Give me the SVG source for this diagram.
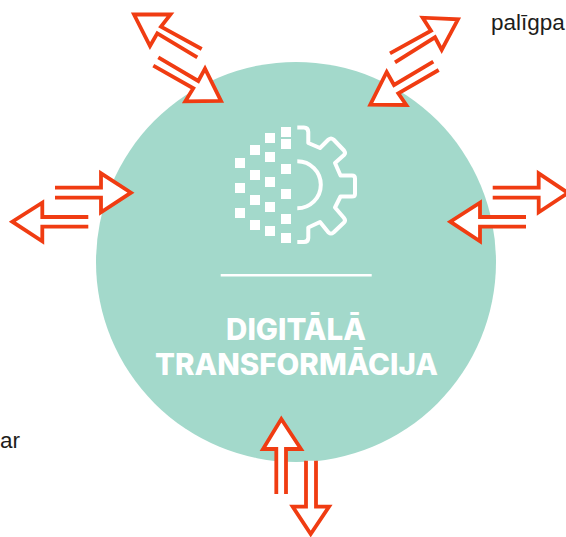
<svg xmlns="http://www.w3.org/2000/svg" width="566" height="537" viewBox="0 0 566 537">
<style>
.arrow{fill:#fff;stroke:#f03c12;stroke-width:3.800;stroke-linejoin:miter;stroke-miterlimit:8}
.sq{fill:#fff}
.label{font-family:"Liberation Sans",sans-serif;font-size:22.500px;fill:#1d1d1b}
.title{font-family:Inter,"Liberation Sans",sans-serif;font-weight:800;font-size:29.500px;fill:#fff;text-anchor:middle}
</style>
<rect width="566" height="537" fill="#fff"/>
<g id="circle-node">
<circle cx="296" cy="262" r="200" fill="#a3d9cb"/>
<g id="icon">
<rect class="sq" x="281" y="127" width="10" height="10"/><rect class="sq" x="281" y="139" width="10" height="10"/>
<rect class="sq" x="265" y="133" width="10" height="10"/><rect class="sq" x="265" y="152" width="10" height="10"/>
<rect class="sq" x="250" y="145" width="10" height="10"/><rect class="sq" x="250" y="170" width="10" height="10"/>
<rect class="sq" x="235" y="158" width="10" height="10"/><rect class="sq" x="235" y="183" width="10" height="10"/>
<rect class="sq" x="235" y="208" width="10" height="10"/><rect class="sq" x="250" y="195" width="10" height="10"/>
<rect class="sq" x="250" y="220" width="10" height="10"/><rect class="sq" x="265" y="177" width="10" height="10"/>
<rect class="sq" x="265" y="202" width="10" height="10"/><rect class="sq" x="265" y="226" width="10" height="10"/>
<rect class="sq" x="281" y="164" width="10" height="10"/><rect class="sq" x="281" y="189" width="10" height="10"/>
<rect class="sq" x="281" y="214" width="10" height="10"/><rect class="sq" x="281" y="233" width="10" height="10"/>
<path fill="none" stroke="#fff" stroke-width="4" stroke-linejoin="round" d="M297.300,127.500H304Q308,127.500 308.300,132V143L320,148L328.500,139.500Q331,137.500 333.500,139.500L344,150.500Q346,153 344,155L335,163L340.500,175.500H352Q355,175.500 355,178.500V194Q355,196.500 352,196.500H340.500L335,207.500L344,218Q346,220.500 344,222.500L333.500,232.500Q331,234.500 328.500,232.500L320,222L308.300,227.500V238Q308,242 304,242H297.300"/>
<path fill="none" stroke="#fff" stroke-width="4" d="M297.300,161.300A23.500,23.500 0 0 1 297.300,208.300"/>
</g>
<rect x="220.700" y="274" width="151" height="2.500" fill="#fff"/>
<text class="title" x="296" y="340">DIGITĀLĀ</text>
<text class="title" x="296.500" y="375">TRANSFORMĀCIJA</text>
</g>
<g id="connectors">
<path class="arrow" d="M201.700,49L161,26.700L170.500,14.500L134,14.500L150,46L157.300,33.300L197.300,57.300"/>
<path class="arrow" d="M158.300,57.300L198.300,81L205,68.700L221,101L185.300,101.300L193.300,88.300L153.300,65.700"/>
<path class="arrow" d="M390,53.300L431,30.700L422.700,17.700L458,19.300L441.700,50L435,37.300L395,62.300"/>
<path class="arrow" d="M433.300,61.700L394,85L386.700,72L370.300,104.700L406.300,105L398.300,93.300L438.700,70"/>
<path class="arrow" d="M55,187.700H101V173.300L131,192.700L101,212.300V197.700H55"/>
<path class="arrow" d="M88.300,217H42.300V202.700L12.300,221.700L42.300,241.300V226.700H88.300"/>
<path class="arrow" d="M492.700,187.700H538.700V173.300L568,193L538.700,212.300V197.700H492.700"/>
<path class="arrow" d="M526,217H480V202.700L450.300,221.700L480,241.300V226.700H526"/>
<path class="arrow" d="M276.300,494V449H263L281.300,419L301,449H286V494"/>
<path class="arrow" d="M306,460.700V506.700H292.700L310.700,534L329,506.700H316V460.700"/>
</g>
<g id="labels">
<text class="label" x="491" y="30">palīgpa</text>
<text class="label" x="0" y="448">ar</text>
</g>
</svg>
